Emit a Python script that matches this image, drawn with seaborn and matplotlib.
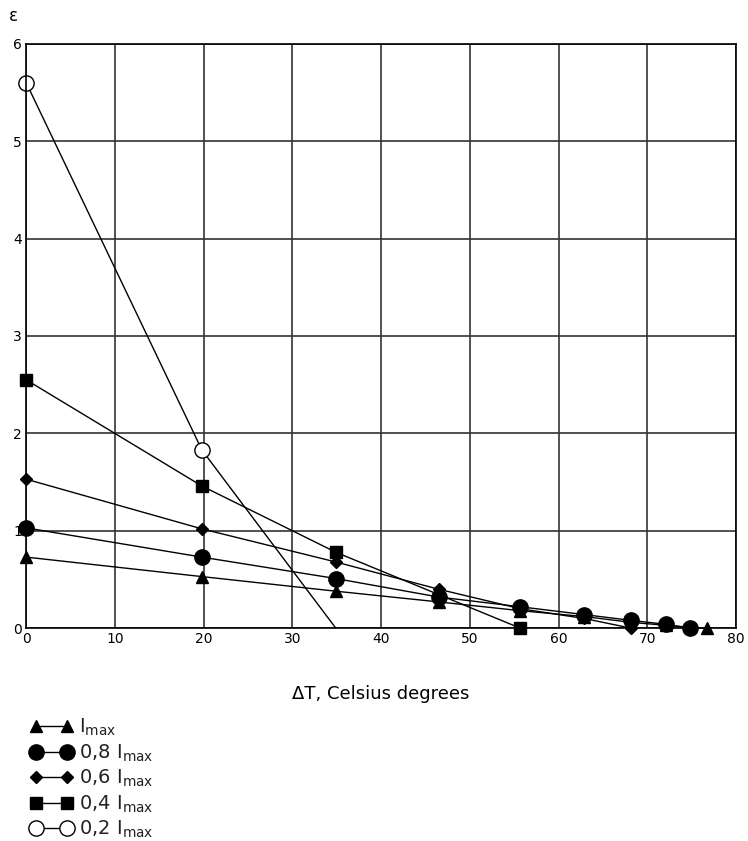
import numpy as np
import pandas as pd
import seaborn as sns
import matplotlib.pyplot as plt

# data
x_imax = [0, 19.8, 34.9, 46.5, 55.7, 62.9, 68.2, 72.1, 74.8, 76.7]
y_imax = [0.73, 0.53, 0.38, 0.27, 0.18, 0.12, 0.06, 0.03, 0.01, 0.0]

x_08 = [0, 19.8, 34.9, 46.5, 55.7, 62.9, 68.2, 72.1, 74.8]
y_08 = [1.03, 0.73, 0.51, 0.32, 0.22, 0.14, 0.08, 0.04, 0.0]

x_06 = [0, 19.8, 34.9, 46.5, 55.7, 62.9, 68.2]
y_06 = [1.53, 1.02, 0.68, 0.40, 0.20, 0.10, 0.0]

x_04 = [0, 19.8, 34.9, 55.7]
y_04 = [2.55, 1.46, 0.78, 0.0]

x_02 = [0, 19.8, 34.9]
y_02 = [5.6, 1.83, 0.0]

labels = [r"I$_{\mathrm{max}}$", r"0,8 I$_{\mathrm{max}}$", r"0,6 I$_{\mathrm{max}}$",
          r"0,4 I$_{\mathrm{max}}$", r"0,2 I$_{\mathrm{max}}$"]

sns.set_style("white")
plt.rcParams['font.family'] = ['DejaVu Sans']
plt.rcParams['mathtext.default'] = 'regular'

fig = plt.figure(figsize=(7.48, 8.41), dpi=100)
ax = fig.add_axes([0.035, 0.253, 0.949, 0.695])

series = [
    (x_imax, y_imax, '^', 'black', 8, None),
    (x_08, y_08, 'o', 'black', 11, None),
    (x_06, y_06, 'D', 'black', 6, None),
    (x_04, y_04, 's', 'black', 9, None),
    (x_02, y_02, 'o', 'white', 11, [0, 1]),
]
for (xs, ys, m, fc, ms, mev), lab in zip(series, labels):
    df = pd.DataFrame({'x': xs, 'y': ys})
    sns.lineplot(data=df, x='x', y='y', ax=ax, color='black', lw=1,
                 marker=m, markersize=ms, markerfacecolor=fc,
                 markeredgecolor='black', markeredgewidth=1,
                 markevery=mev, label=lab, sort=False, clip_on=False)

ax.set_xlim(0, 80)
ax.set_ylim(0, 6)
ax.set_xticks(range(0, 81, 10))
ax.set_yticks(range(0, 7))
ax.grid(True, color='#333333', lw=1.2)
ax.set_axisbelow(True)
for s in ax.spines.values():
    s.set_color('black')
    s.set_linewidth(1.2)
ax.tick_params(length=0, labelsize=10, pad=3, labelcolor='black')
ax.set_xlabel("ΔT, Celsius degrees", fontsize=13, labelpad=28, color='black')
ax.set_ylabel("")
fig.text(0.012, 0.975, "ε", fontsize=12, color='black')

leg = ax.legend(loc='upper left', bbox_to_anchor=(0.03, 0.157), bbox_transform=fig.transFigure,
                frameon=False, numpoints=2, handlelength=2.2, fontsize=14,
                labelspacing=0.22, handletextpad=0.3, borderaxespad=0)
for t in leg.get_texts():
    t.set_color('#222222')

fig.savefig("out.png", dpi=100)
